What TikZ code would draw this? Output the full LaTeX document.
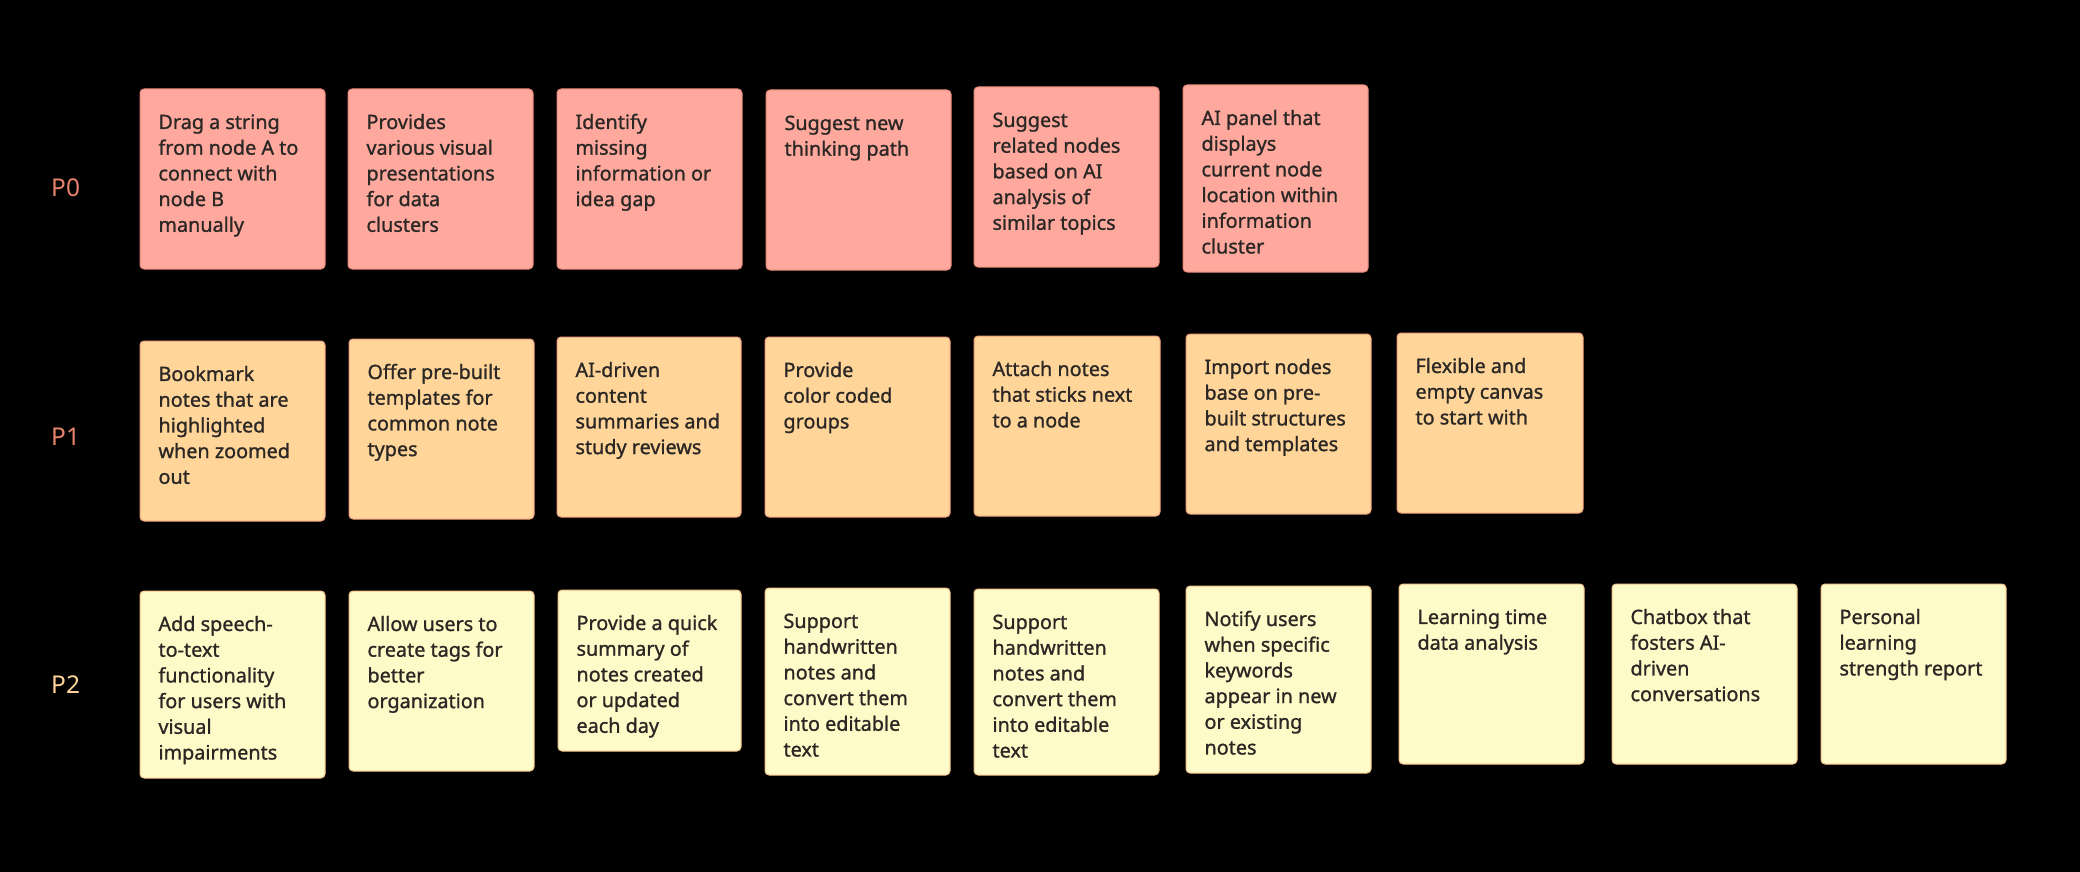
\documentclass[tikz,border=0pt]{standalone}
\usepackage{fontspec}
\setmainfont{Noto Sans}
\newfontfamily\notefont{Noto Sans}[FakeBold=1.1]
\newfontfamily\labelfont{Noto Sans}
\definecolor{bg}{HTML}{000000}
\definecolor{pzfill}{HTML}{FFA99E}
\definecolor{pzline}{HTML}{E8877A}
\definecolor{pofill}{HTML}{FFD599}
\definecolor{poline}{HTML}{F0A07E}
\definecolor{ptfill}{HTML}{FFFBC8}
\definecolor{ptline}{HTML}{F2C48C}
\definecolor{ink}{HTML}{2B2724}
\definecolor{lblzero}{HTML}{E8836B}
\definecolor{lblone}{HTML}{E8846E}
\definecolor{lbltwo}{HTML}{FFD59A}
\tikzset{
  sticky/.style={rectangle, rounded corners=4pt, line width=1pt, inner sep=0pt, outer sep=0pt},
  pzero/.style={sticky, fill=pzfill, draw=pzline},
  pone/.style={sticky, fill=pofill, draw=poline},
  ptwo/.style={sticky, fill=ptfill, draw=ptline},
  notetext/.style={inner sep=0pt, outer sep=0pt, align=left, text=ink,
    font=\notefont\fontsize{19.8}{25.7}\selectfont},
  rowlabel/.style={inner sep=0pt, font=\labelfont\fontsize{24.5}{28}\selectfont}
}
\newcommand\stickynote[7]{%
  \node[#2, anchor=north west, minimum width=#5pt, minimum height=#6pt] (#1) at (#3,#4) {};
  \node[notetext, anchor=north west] (#1t) at ([xshift=18.5pt,yshift=-22pt]#1.north west) {\strut #7};
}
\begin{document}
\begin{tikzpicture}[x=1pt,y=-1pt]
\fill[bg] (0,0) rectangle (2080,872);
\useasboundingbox (0,0) rectangle (2080,872);

\node[rowlabel, text=lblzero, anchor=west] (lzero) at (51,188) {P0};
\node[rowlabel, text=lblone, anchor=west] (lone) at (51,437) {P1};
\node[rowlabel, text=lbltwo, anchor=west] (ltwo) at (51,685) {P2};

% P0 row
\stickynote{a1}{pzero}{140}{89}{185}{180}{Drag a string\\from node A to\\connect with\\node B\\manually}
\stickynote{a2}{pzero}{348}{89}{185}{180}{Provides\\various visual\\presentations\\for data\\clusters}
\stickynote{a3}{pzero}{557}{89}{185}{180}{Identify\\missing\\information or\\idea gap}
\stickynote{a4}{pzero}{766}{90}{185}{180}{Suggest new\\thinking path}
\stickynote{a5}{pzero}{974}{87}{185}{180}{Suggest\\related nodes\\based on AI\\analysis of\\similar topics}
\stickynote{a6}{pzero}{1183}{85}{185}{187}{AI panel that\\displays\\current node\\location within\\information\\cluster}

% P1 row
\stickynote{b1}{pone}{140}{341}{185}{180}{Bookmark\\notes that are\\highlighted\\when zoomed\\out}
\stickynote{b2}{pone}{349}{339}{185}{180}{Offer pre-built\\templates for\\common note\\types}
\stickynote{b3}{pone}{557}{337}{184}{180}{AI-driven\\content\\summaries and\\study reviews}
\stickynote{b4}{pone}{765}{337}{185}{180}{Provide\\color coded\\groups}
\stickynote{b5}{pone}{974}{336}{186}{180}{Attach notes\\that sticks next\\to a node}
\stickynote{b6}{pone}{1186}{334}{185}{180}{Import nodes\\base on pre-\\built structures\\and templates}
\stickynote{b7}{pone}{1397}{333}{186}{180}{Flexible and\\empty canvas\\to start with}

% P2 row
\stickynote{c1}{ptwo}{140}{591}{185}{187}{Add speech-\\to-text\\functionality\\for users with\\visual\\impairments}
\stickynote{c2}{ptwo}{349}{591}{185}{180}{Allow users to\\create tags for\\better\\organization}
\stickynote{c3}{ptwo}{558}{590}{183}{161}{Provide a quick\\summary of\\notes created\\or updated\\each day}
\stickynote{c4}{ptwo}{765}{588}{185}{187}{Support\\handwritten\\notes and\\convert them\\into editable\\text}
\stickynote{c5}{ptwo}{974}{589}{185}{186}{Support\\handwritten\\notes and\\convert them\\into editable\\text}
\stickynote{c6}{ptwo}{1186}{586}{185}{187}{Notify users\\when specific\\keywords\\appear in new\\or existing\\notes}
\stickynote{c7}{ptwo}{1399}{584}{185}{180}{Learning time\\data analysis}
\stickynote{c8}{ptwo}{1612}{584}{185}{180}{Chatbox that\\fosters AI-\\driven\\conversations}
\stickynote{c9}{ptwo}{1821}{584}{185}{180}{Personal\\learning\\strength report}
\end{tikzpicture}
\end{document}
